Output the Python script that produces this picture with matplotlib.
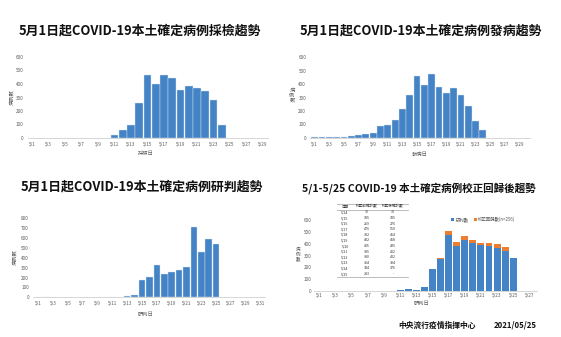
import matplotlib
matplotlib.use('Agg')
import matplotlib.pyplot as plt
from matplotlib.lines import Line2D

plt.rcParams['font.family'] = ['Noto Sans CJK TC', 'DejaVu Sans']

W, H = 561, 337

# 採檢日
sample_days = list(range(11, 25))
sample_counts = [25, 60, 95, 259, 463, 402, 466, 441, 359, 385, 373, 349, 285, 95]

# 發病日
onset_days = list(range(1, 25))
onset_counts = [8, 5, 6, 3, 8, 12, 17, 30, 37, 87, 97, 132, 215, 317,
                462, 397, 472, 382, 332, 370, 322, 235, 122, 60]

# 研判日
judge_days = [2, 11, 13, 14, 15, 16, 17, 18, 19, 20, 21, 22, 23, 24, 25]
judge_counts = [5, 3, 12, 25, 176, 203, 331, 233, 260, 280, 311, 716, 456, 588, 540]

# 校正回歸
adj_days = [2, 11, 12, 13, 14, 15, 16, 17, 18, 19, 20, 21, 22, 23, 24, 25]
adj_base = [3, 5, 15, 12, 30, 185, 269, 476, 382, 432, 405, 385, 380, 364, 334, 283]
adj_extra = [0, 0, 0, 0, 0, 0, 7, 34, 32, 36, 30, 17, 22, 30, 42, 0]

table_head = ['日期', '校正前確診數', '校正後確診數']
table_dates = ['5/14', '5/15', '5/16', '5/17', '5/18', '5/19', '5/20',
               '5/21', '5/22', '5/23', '5/24', '5/25']
table_before = ['30', '185', '269', '476', '382', '432', '405', '385',
                '380', '364', '334', '283']
table_after = ['30', '185', '276', '510', '414', '468', '435', '402',
               '402', '394', '376', '-']

BLUE = '#4383c6'
ORANGE = '#ed7d31'
GRAY = '#595959'

fig = plt.figure(figsize=(W / 100, H / 100), dpi=100)
fig.patch.set_facecolor('white')


def panel(x1, per_day, xlim, y0, y_top, ymax, ystep, tick_last, pad=3):
    left = x1 + (xlim[0] - 1) * per_day
    width = (xlim[1] - xlim[0]) * per_day
    ax = fig.add_axes([left / W, (H - y0) / H, width / W, (y0 - y_top) / H])
    ax.set_xlim(xlim)
    ax.set_ylim(0, ymax)
    for s in ['top', 'right', 'left']:
        ax.spines[s].set_visible(False)
    ax.spines['bottom'].set_color('#d0d0d0')
    ax.spines['bottom'].set_linewidth(0.6)
    ticks = list(range(1, tick_last + 1, 2))
    ax.set_xticks(ticks)
    ax.set_xticklabels([f'5/{d}' for d in ticks])
    ax.set_yticks(range(0, ymax + 1, ystep))
    ax.tick_params(length=0, labelsize=3.3, labelcolor=GRAY, pad=pad)
    return ax


def title(x, y, s, size=9.3):
    fig.text(x / W, 1 - y / H, s, ha='center', va='center',
             fontsize=size, fontweight='bold', color='#111111')


def label(x, y, s, rot=0, ls=1.0, size=3.8):
    fig.text(x / W, 1 - y / H, s, ha='center', va='center', fontsize=size,
             color=GRAY, rotation=rot, linespacing=ls)


# panel 1
title(140, 31, '5月1日起COVID-19本土確定病例採檢趨勢')
ax1 = panel(32, 8.25, (0.5, 29.6), 138, 57, 600, 100, 29)
ax1.bar(sample_days, sample_counts, width=0.93, color=BLUE,
        edgecolor='#dce6f1', linewidth=0.3)
label(146, 153, '採檢日')
label(12, 97, '病例數', rot=90)

# panel 2
title(421, 31, '5月1日起COVID-19本土確定病例發病趨勢')
ax2 = panel(314.7, 7.31, (0.4, 30.5), 137.7, 57.3, 600, 100, 29)
ax2.bar(onset_days, onset_counts, width=0.93, color=BLUE,
        edgecolor='#dce6f1', linewidth=0.3)
label(420, 154, '發病日')
label(292, 95, '病\n例\n數', ls=1.0)

# panel 3
title(142, 186, '5月1日起COVID-19本土確定病例研判趨勢')
ax3 = panel(38.3, 7.41, (0.3, 31.6), 297.3, 218.3, 800, 100, 31)
ax3.bar(judge_days, judge_counts, width=0.88, color=BLUE,
        edgecolor='#dce6f1', linewidth=0.3)
label(146, 314, '研判日')
label(15, 257, '病例數', rot=90)

# panel 4
title(419, 188, '5/1-5/25 COVID-19 本土確定病例校正回歸後趨勢', size=7.6)
ax4 = panel(319.3, 8.08, (0.3, 27.9), 291, 220, 600, 100, 27, pad=1.5)
ax4.bar(adj_days, adj_base, width=0.86, color=BLUE, label='研判數')
ax4.bar(adj_days, adj_extra, bottom=adj_base, width=0.86, color=ORANGE,
        label='校正回歸數(n=256)')
ax4.legend(loc='upper left', bbox_to_anchor=(0.6, 1.1), ncol=2, frameon=False,
           fontsize=3.2, handlelength=0.6, handleheight=0.6, handletextpad=0.3,
           columnspacing=1.2, labelcolor=GRAY)
label(422, 303, '研判日')
label(298, 254, '病\n例\n數', ls=0.95, size=3.3)

# table
tab_top, row_h = 204, 5.6
cols = [345, 367, 393]
rows = [table_head] + [list(r) for r in zip(table_dates, table_before, table_after)]
for i, r in enumerate(rows):
    yy = tab_top + row_h * (i + 0.5)
    for cx, txt in zip(cols, r):
        fig.text(cx / W, 1 - yy / H, txt, ha='center', va='center',
                 fontsize=2.6, color='#333333')
for yy in [tab_top, tab_top + row_h, tab_top + row_h * len(rows)]:
    fig.add_artist(Line2D([337 / W, 408 / W], [1 - yy / H, 1 - yy / H],
                          color='#a0a0a0', linewidth=0.5))

fig.text(437 / W, 1 - 325 / H, '中央流行疫情指揮中心', ha='center', va='center',
         fontsize=5.6, fontweight='bold', color='#111111')
fig.text(515 / W, 1 - 325 / H, '2021/05/25', ha='center', va='center',
         fontsize=5.6, fontweight='bold', color='#111111')

fig.savefig('out.png', dpi=100, facecolor='white')
